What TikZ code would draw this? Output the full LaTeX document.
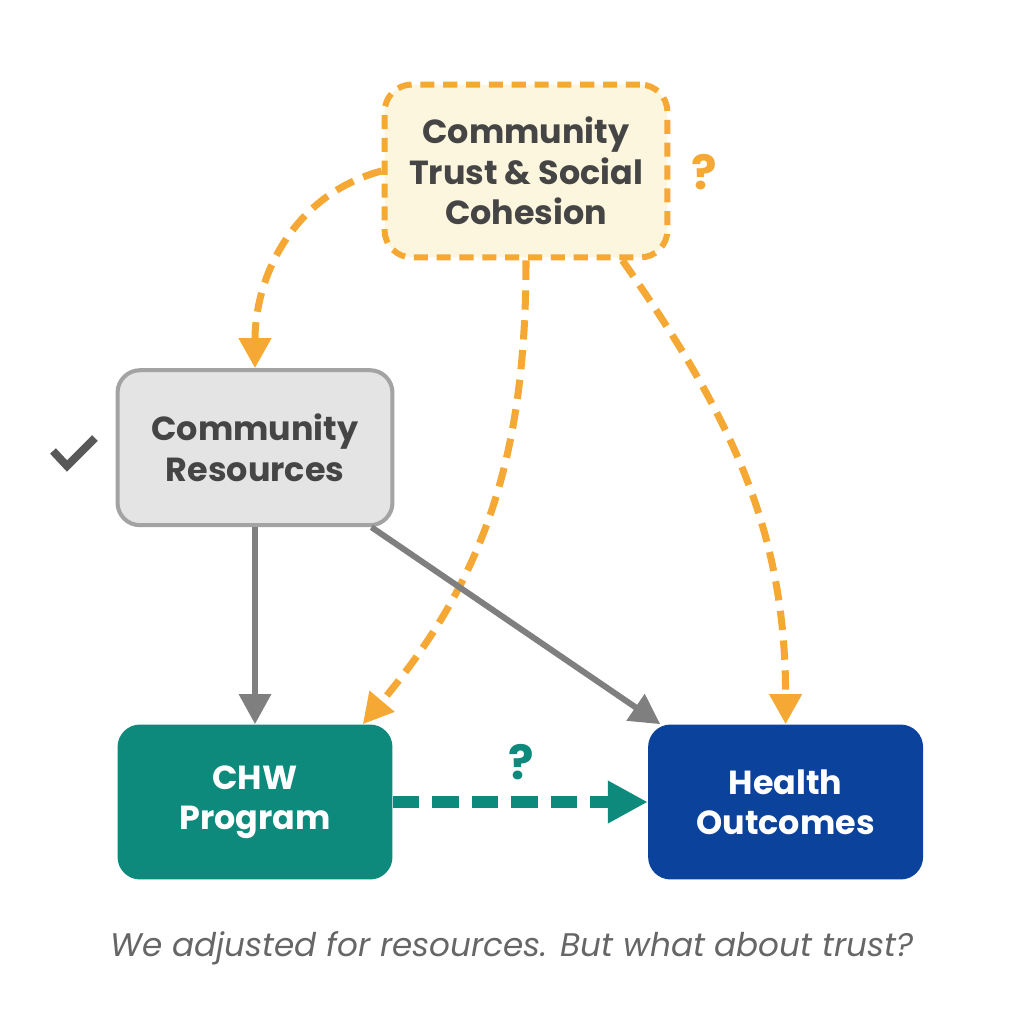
\documentclass[tikz,border=0pt]{standalone}
\usepackage{fontspec}
\setmainfont{Poppins}
\usetikzlibrary{arrows.meta,positioning}

\definecolor{trustorange}{HTML}{F5A833}
\definecolor{trustfill}{HTML}{FDF6DE}
\definecolor{resfill}{HTML}{E4E4E4}
\definecolor{resline}{HTML}{A3A3A3}
\definecolor{arrowgray}{HTML}{7F7F7F}
\definecolor{chwteal}{HTML}{0E8A7D}
\definecolor{outblue}{HTML}{0B429B}
\definecolor{textgray}{HTML}{454545}

\begin{document}
\begin{tikzpicture}[x=0.02cm, y=-0.02cm, node distance=3.94cm and 5.1cm,
    box/.style={rounded corners=0.45cm, minimum width=5.5cm, minimum height=3.1cm,
      align=center, font=\fontsize{19}{23}\selectfont\bfseries},
    conf/.style={->, trustorange, line width=4pt, dash pattern=on 11pt off 6pt},
    adj/.style={->, arrowgray, line width=3.4pt},
    >={Triangle[length=0.6cm, width=0.62cm]}]
  \fill[white] (0,0) rectangle (1024,1024);
  \useasboundingbox (0,0) rectangle (1024,1024);

  \node[box, fill=chwteal, text=white] (chw) at (255,802) {CHW\\Program};
  \node[box, fill=resfill, draw=resline, line width=2.3pt, text=textgray] (res) [above=of chw] {Community\\Resources};
  \node[box, fill=outblue, text=white] (out) [right=of chw] {Health\\Outcomes};
  \node[box, fill=trustfill, draw=trustorange, line width=3.4pt, dash pattern=on 8pt off 5pt,
    rounded corners=0.55cm, minimum width=5.66cm, minimum height=3.46cm, text=textgray] (trust) at (526,171) {Community\\Trust \& Social\\Cohesion};

  \node[text=trustorange, font=\fontsize{27}{29}\selectfont\bfseries] (q1) at (704,172) {?};
  \node[text=chwteal, font=\fontsize{27}{29}\selectfont\bfseries] (q2) at (521,762) {?};
  \node[text=gray!80!black, font=\itshape\fontsize{18.6}{20}\selectfont] (cap) at (512,948) {We adjusted for resources. But what about trust?};
  \draw[textgray!90, line width=4.5pt] (53,451) -- (67,466) -- (95,438);

  \path (trust.west) edge[conf, out=195, in=90] (res.north)
    (trust.south) edge[conf, out=-90, in=50] ([xshift=-0.6cm]chw.north east)
    ([xshift=-0.96cm]trust.south east) edge[conf, out=-55, in=90] (out.north)
    (res.south) edge[adj] (chw.north)
    ([xshift=-0.46cm]res.south east) edge[adj] ([xshift=0.25cm]out.north west)
    (chw.east) edge[->, chwteal, line width=6.8pt, dash pattern=on 15pt off 7.5pt,
      >={Triangle[length=0.8cm, width=0.8cm]}] (out.west);
\end{tikzpicture}
\end{document}
